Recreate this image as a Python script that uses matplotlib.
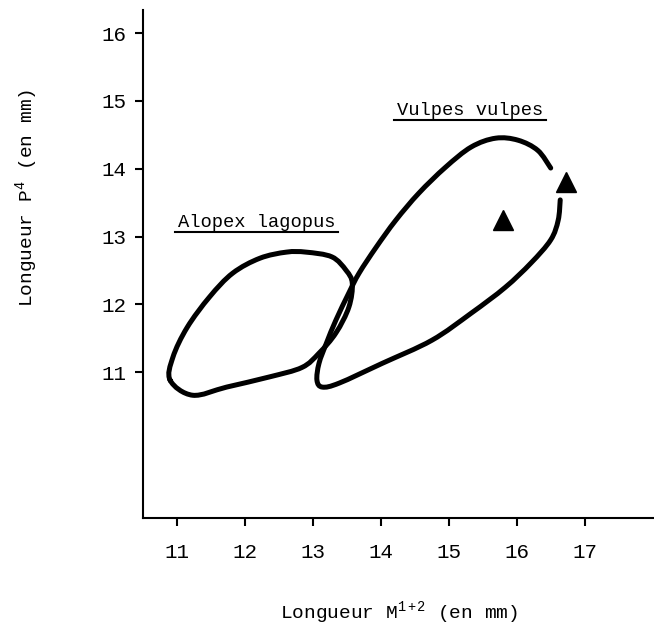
import numpy as np
import matplotlib.pyplot as plt
from matplotlib.path import Path
from matplotlib.patches import PathPatch

plt.rcParams['font.family'] = ['Liberation Mono', 'DejaVu Sans']
plt.rcParams['mathtext.fontset'] = 'custom'
plt.rcParams['mathtext.rm'] = 'Liberation Mono'
plt.rcParams['mathtext.it'] = 'Liberation Mono'

# outline of Alopex lagopus (closed)
alopex_x = [10.90, 11.23, 11.73, 12.36, 12.84, 13.09, 13.34, 13.53, 13.58,
            13.49, 13.28, 12.90, 12.61, 12.22, 11.82, 11.48, 11.15, 10.94]
alopex_y = [10.88, 10.66, 10.78, 10.93, 11.07, 11.28, 11.58, 11.96, 12.31,
            12.50, 12.70, 12.77, 12.77, 12.68, 12.46, 12.11, 11.66, 11.22]

# outline of Vulpes vulpes (open near the right end)
vulpes_x = [16.50, 16.31, 16.02, 15.69, 15.33, 14.95, 14.56, 14.22, 13.93,
            13.68, 13.53, 13.34, 13.20, 13.09, 13.06, 13.14, 13.39, 14.02,
            14.75, 15.33, 15.83, 16.21, 16.50, 16.61, 16.64]
vulpes_y = [14.01, 14.27, 14.42, 14.45, 14.32, 14.02, 13.64, 13.24, 12.84,
            12.46, 12.17, 11.77, 11.43, 11.13, 10.88, 10.78, 10.84, 11.13,
            11.47, 11.87, 12.25, 12.61, 12.95, 13.24, 13.54]

# single specimens (triangles)
tri_x = [15.80, 16.72]
tri_y = [13.24, 13.80]

x_ticks = [11, 12, 13, 14, 15, 16, 17]
y_ticks = [11, 12, 13, 14, 15, 16]


def smooth_path(xs, ys, closed):
    pts = np.column_stack([xs, ys])
    n = len(pts)
    verts = [pts[0]]
    codes = [Path.MOVETO]
    segs = n if closed else n - 1
    for i in range(segs):
        p0 = pts[(i - 1) % n] if (closed or i > 0) else pts[0]
        p1 = pts[i % n]
        p2 = pts[(i + 1) % n]
        p3 = pts[(i + 2) % n] if (closed or i + 2 < n) else pts[-1]
        verts += [p1 + (p2 - p0) / 6, p2 - (p3 - p1) / 6, p2]
        codes += [Path.CURVE4] * 3
    return Path(verts, codes)


fig = plt.figure(figsize=(6.54, 6.34), dpi=100)
ax = fig.add_axes([143 / 654, 116 / 634, 511 / 654, 508 / 634])
ax.set_xlim(10.5, 18.02)
ax.set_ylim(8.85, 16.34)

for xs, ys, closed in [(alopex_x, alopex_y, True), (vulpes_x, vulpes_y, False)]:
    ax.add_patch(PathPatch(smooth_path(xs, ys, closed), facecolor='none',
                           edgecolor='black', lw=3.6, capstyle='round',
                           joinstyle='round'))

ax.plot(tri_x, tri_y, linestyle='none', marker='^', ms=14, color='black')

ax.spines['top'].set_visible(False)
ax.spines['right'].set_visible(False)
for s in ['left', 'bottom']:
    ax.spines[s].set_linewidth(1.5)

ax.set_xticks(x_ticks)
ax.set_yticks(y_ticks)
ax.tick_params(axis='both', direction='out', length=6, width=1.5, labelsize=15)
ax.tick_params(axis='x', pad=12)
ax.tick_params(axis='y', pad=6)

labels = [
    ax.text(11.01, 13.14, 'Alopex lagopus', fontsize=13.5, ha='left', va='baseline'),
    ax.text(14.24, 14.79, 'Vulpes vulpes', fontsize=13.5, ha='left', va='baseline'),
]

fig.text(399 / 654, 1 - 613 / 634, 'Longueur M$^{1+2}$ (en mm)', fontsize=14,
         ha='center', va='center')
fig.text(27 / 654, 1 - 198 / 634, 'Longueur P$^{4}$ (en mm)', fontsize=14,
         ha='center', va='center', rotation=90)

# underline the species names
fig.canvas.draw()
renderer = fig.canvas.get_renderer()
inv = ax.transData.inverted()
for t in labels:
    bb = t.get_window_extent(renderer)
    base = ax.transData.transform(t.get_position())[1] - 5
    (x0, y0), (x1, _) = inv.transform([(bb.x0 - 3, base), (bb.x1 + 3, base)])
    ax.plot([x0, x1], [y0, y0], color='black', lw=1.5)

fig.savefig('out.png', dpi=100)
